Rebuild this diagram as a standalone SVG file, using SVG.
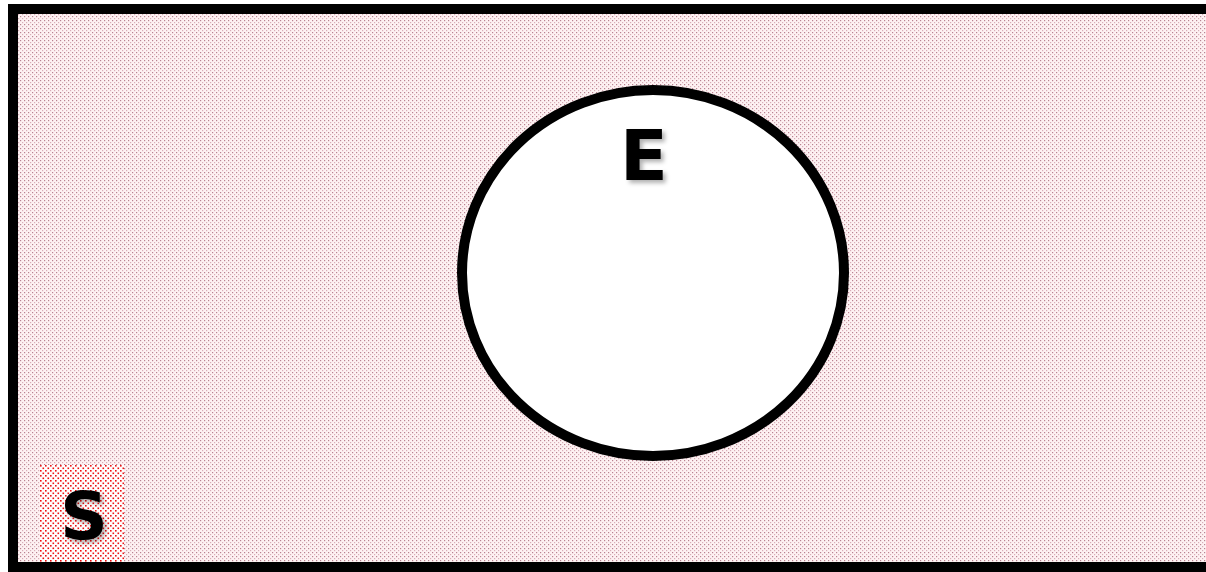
<svg xmlns="http://www.w3.org/2000/svg" width="1206" height="572" viewBox="0 0 1206 572">
<defs>
<pattern id="dots" width="4" height="4" patternUnits="userSpaceOnUse">
<rect width="4" height="4" fill="#fef2f3"/>
<rect x="0" y="0" width="1.2" height="1.2" fill="#b98391"/>
<rect x="2" y="2" width="1.2" height="1.2" fill="#d8aeb8"/>
</pattern>
<pattern id="reddots" width="5" height="5" patternUnits="userSpaceOnUse">
<rect width="5" height="5" fill="#ffffff"/>
<rect x="0" y="0" width="1.6" height="1.6" fill="#ee1111"/>
<rect x="2.5" y="2.5" width="1.6" height="1.6" fill="#ee1111"/>
</pattern>
<filter id="sh" x="-20%" y="-20%" width="150%" height="150%">
<feDropShadow dx="3" dy="3" stdDeviation="2" flood-color="#000" flood-opacity="0.3"/>
</filter>
<style>
.lbl{font-family:"DejaVu Sans","Liberation Sans",sans-serif;font-weight:bold;fill:#000;text-anchor:middle;filter:url(#sh)}
</style>
</defs>
<g id="universe">
<rect x="13" y="9" width="1210" height="558" fill="url(#dots)" stroke="#000" stroke-width="10"/>
</g>
<g id="label-S">
<rect x="40" y="465" width="84" height="97" fill="url(#reddots)"/>
<text class="lbl" x="84" y="539" font-size="66">S</text>
</g>
<g id="event-E">
<ellipse cx="653" cy="273" rx="191" ry="183" fill="#fff" stroke="#000" stroke-width="10"/>
<text class="lbl" x="644" y="180" font-size="70">E</text>
</g>
<g id="connectors"/>
</svg>
